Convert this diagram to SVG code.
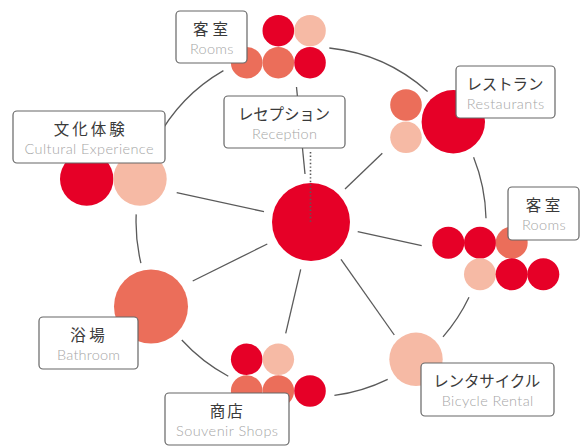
<svg xmlns="http://www.w3.org/2000/svg" width="580" height="446" viewBox="0 0 580 446">
<defs>
<style>
.ln{fill:none;stroke:#5a5a5a;stroke-width:1.3}
.dot{fill:none;stroke:#5a5a5a;stroke-width:1.6;stroke-dasharray:1.4 2.2}
.r{fill:#E60027}
.c{fill:#EB6E5A}
.p{fill:#F6BAA5}
.box{fill:#fff;stroke:#666;stroke-width:1.2}
.jp{font-family:"Noto Sans CJK JP","Noto Sans",sans-serif;font-size:15.5px;fill:#3a3a3a;text-anchor:middle}
.en{font-family:Lato,"Open Sans",sans-serif;font-size:14.5px;font-weight:300;fill:#a6a6a6;text-anchor:middle}
</style>
</defs>
<rect width="580" height="446" fill="#fff"/>
<g id="connectors">
<path class="ln" d="M223.4,70.6 A175,175 0 0 0 156.4,140"/>
<path class="ln" d="M329.3,48 A175,175 0 0 1 427.6,91.5"/>
<path class="ln" d="M473.6,157.3 A175,175 0 0 1 486,218.3"/>
<path class="ln" d="M469,297.3 A175,175 0 0 1 443,336.9"/>
<path class="ln" d="M387.7,379.3 A175,175 0 0 1 334.4,395.4"/>
<path class="ln" d="M228.3,376.2 A175,175 0 0 1 181.8,340"/>
<path class="ln" d="M140.9,263.1 A175,175 0 0 1 136.2,214.4"/>
<line class="ln" x1="296.5" y1="87" x2="305" y2="174"/>
<line class="ln" x1="382.3" y1="153.3" x2="345" y2="189"/>
<line class="ln" x1="357.7" y1="231.7" x2="421.7" y2="245.7"/>
<line class="ln" x1="341" y1="259.3" x2="394.3" y2="335"/>
<line class="ln" x1="300.7" y1="269.3" x2="285.7" y2="333.3"/>
<line class="ln" x1="267.3" y1="244" x2="192.7" y2="281"/>
<line class="ln" x1="264" y1="211.7" x2="176.7" y2="192.7"/>
</g>
<g id="reception">
<circle class="r" cx="311" cy="222" r="39"/>
<line class="dot" x1="310.5" y1="152" x2="310.5" y2="222"/>
<rect class="box" x="224" y="96" width="121" height="52" rx="4"/>
<text class="jp" x="284" y="119.5" textLength="92" lengthAdjust="spacing">レセプション</text>
<text class="en" x="284.5" y="139" textLength="65" lengthAdjust="spacing">Reception</text>
</g>
<g id="rooms-top">
<circle class="r" cx="278.3" cy="30.7" r="15.8"/>
<circle class="p" cx="310" cy="30.7" r="15.8"/>
<circle class="c" cx="246.7" cy="62.7" r="15.8"/>
<circle class="c" cx="278.3" cy="62.7" r="15.8"/>
<circle class="r" cx="310" cy="62.7" r="15.8"/>
<rect class="box" x="176" y="11" width="71" height="52" rx="4"/>
<text class="jp" x="210.5" y="34.5" textLength="35" lengthAdjust="spacing">客室</text>
<text class="en" x="211.7" y="53.5" textLength="43.5" lengthAdjust="spacing">Rooms</text>
</g>
<g id="restaurants">
<circle class="c" cx="406" cy="105" r="15.8"/>
<circle class="p" cx="406" cy="137.3" r="15.8"/>
<circle class="r" cx="453.3" cy="121.7" r="31.7"/>
<rect class="box" x="456" y="66" width="99" height="52" rx="4"/>
<text class="jp" x="505" y="89.5" textLength="77" lengthAdjust="spacing">レストラン</text>
<text class="en" x="505.5" y="108.5" textLength="77.5" lengthAdjust="spacing">Restaurants</text>
</g>
<g id="rooms-right">
<circle class="r" cx="448.3" cy="242.7" r="16"/>
<circle class="r" cx="480" cy="242.7" r="16"/>
<circle class="c" cx="511.7" cy="242.7" r="16"/>
<circle class="p" cx="480" cy="274.3" r="16"/>
<circle class="r" cx="511.7" cy="274.3" r="16"/>
<circle class="r" cx="543.3" cy="274.3" r="16"/>
<rect class="box" x="508" y="187" width="71" height="53" rx="4"/>
<text class="jp" x="543" y="210.5" textLength="34.5" lengthAdjust="spacing">客室</text>
<text class="en" x="543.8" y="230" textLength="43.8" lengthAdjust="spacing">Rooms</text>
</g>
<g id="bicycle-rental">
<circle class="p" cx="416" cy="359.3" r="26.7"/>
<rect class="box" x="421" y="363" width="133" height="53" rx="4"/>
<text class="jp" x="486.7" y="387" textLength="107" lengthAdjust="spacing">レンタサイクル</text>
<text class="en" x="487.5" y="406" textLength="91.5" lengthAdjust="spacing">Bicycle Rental</text>
</g>
<g id="souvenir-shops">
<circle class="r" cx="246.7" cy="359.3" r="15.8"/>
<circle class="p" cx="278.3" cy="359.3" r="15.8"/>
<circle class="c" cx="246.7" cy="391" r="15.8"/>
<circle class="c" cx="278.3" cy="391" r="15.8"/>
<circle class="r" cx="310" cy="391" r="15.8"/>
<rect class="box" x="165" y="393" width="124" height="52" rx="4"/>
<text class="jp" x="226.3" y="416.5" textLength="33" lengthAdjust="spacing">商店</text>
<text class="en" x="227" y="435.5" textLength="102" lengthAdjust="spacing">Souvenir Shops</text>
</g>
<g id="bathroom">
<circle class="c" cx="151" cy="306.5" r="37"/>
<rect class="box" x="39" y="317" width="99" height="52" rx="4"/>
<text class="jp" x="87.5" y="340.5" textLength="34.5" lengthAdjust="spacing">浴場</text>
<text class="en" x="88.5" y="359.5" textLength="63" lengthAdjust="spacing">Bathroom</text>
</g>
<g id="cultural-experience">
<circle class="r" cx="86.7" cy="179" r="26.7"/>
<circle class="p" cx="140" cy="179" r="26.7"/>
<rect class="box" x="13" y="111" width="152" height="52" rx="4"/>
<text class="jp" x="89.2" y="134.5" textLength="71" lengthAdjust="spacing">文化体験</text>
<text class="en" x="89" y="153.5" textLength="129" lengthAdjust="spacing">Cultural Experience</text>
</g>
</svg>
